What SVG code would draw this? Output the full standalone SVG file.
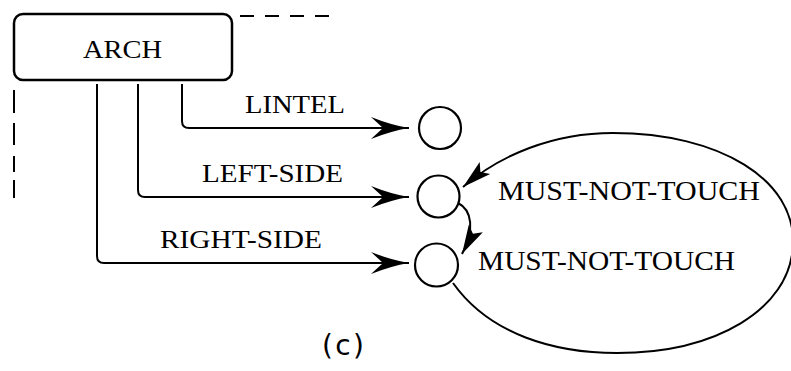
<svg xmlns="http://www.w3.org/2000/svg" width="791" height="371" viewBox="0 0 791 371">
  <style>
    .bg { fill: #ffffff; }
    .box { fill: #ffffff; stroke: #000; stroke-width: 2.5; }
    .node { fill: #ffffff; stroke: #000; stroke-width: 2.2; }
    .edge { fill: none; stroke: #000; stroke-width: 2; }
    .dash { fill: none; stroke: #000; stroke-width: 2; }
    .lbl { font-family: "Liberation Serif", "Times New Roman", serif; font-size: 26px; fill: #000; }
    .rel { font-family: "Liberation Serif", "Times New Roman", serif; font-size: 28px; fill: #000; }
    .cap { font-family: "DejaVu Sans", "Liberation Sans", Arial, sans-serif; font-size: 28px; fill: #000; }
  </style>
  <defs>
    <marker id="stealth" markerUnits="userSpaceOnUse" viewBox="-40 -13 42 26" markerWidth="42" markerHeight="26" refX="0" refY="0" orient="auto">
      <path d="M0,0 Q-18,-3 -38,-11 L-26,0 L-38,11 Q-18,3 0,0 Z" fill="#000"/>
    </marker>
    <marker id="tri" markerUnits="userSpaceOnUse" viewBox="-32 -10 34 20" markerWidth="34" markerHeight="20" refX="0" refY="0" orient="auto">
      <path d="M0,0 L-29,-8 L-23,0 L-29,8 Z" fill="#000"/>
    </marker>
  </defs>
  <rect class="bg" x="0" y="0" width="791" height="371"/>

  <g id="frame">
    <line class="dash" x1="240" y1="16" x2="333" y2="16" stroke-dasharray="14,11"/>
    <path class="dash" d="M14,90 V113 M14,123 V145 M14,156 V172 M14,180 V198"/>
  </g>

  <g id="connectors">
    <path id="e-lintel" class="edge" d="M182,84 V121 Q182,128 189,128 H409" marker-end="url(#stealth)"/>
    <path id="e-left" class="edge" d="M138,84 V190 Q138,197 145,197 H409" marker-end="url(#stealth)"/>
    <path id="e-right" class="edge" d="M97,84 V256 Q97,263 104,263 H409" marker-end="url(#stealth)"/>
    <path id="e-loop" class="edge" d="M453,283 C490,335 555,353 617,353 C715,353 790,310 793,245 C796,180 720,133 613,133 C553,133 500,155 463,187" marker-end="url(#tri)"/>
    <path id="e-small" class="edge" d="M458,203 C472,210 475,230 462,254" marker-end="url(#tri)"/>
    <text class="lbl" x="245" y="113" textLength="100" lengthAdjust="spacingAndGlyphs">LINTEL</text>
    <text class="lbl" x="202" y="182" textLength="141" lengthAdjust="spacingAndGlyphs">LEFT-SIDE</text>
    <text class="lbl" x="160" y="248" textLength="162" lengthAdjust="spacingAndGlyphs">RIGHT-SIDE</text>
    <text class="rel" x="498" y="200" textLength="262" lengthAdjust="spacingAndGlyphs">MUST-NOT-TOUCH</text>
    <text class="rel" x="478" y="270" textLength="257" lengthAdjust="spacingAndGlyphs">MUST-NOT-TOUCH</text>
  </g>

  <g id="arch">
    <rect class="box" x="14" y="14" width="218" height="66" rx="9" ry="9"/>
    <text class="lbl" x="83" y="58" textLength="79" lengthAdjust="spacingAndGlyphs">ARCH</text>
  </g>
  <g id="node-lintel">
    <circle class="node" cx="440" cy="128" r="21"/>
  </g>
  <g id="node-left-side">
    <circle class="node" cx="438.5" cy="196.5" r="21"/>
  </g>
  <g id="node-right-side">
    <circle class="node" cx="436.5" cy="265" r="21.5"/>
  </g>

  <text class="cap" x="322" y="355" textLength="42" lengthAdjust="spacing">(c)</text>
</svg>
